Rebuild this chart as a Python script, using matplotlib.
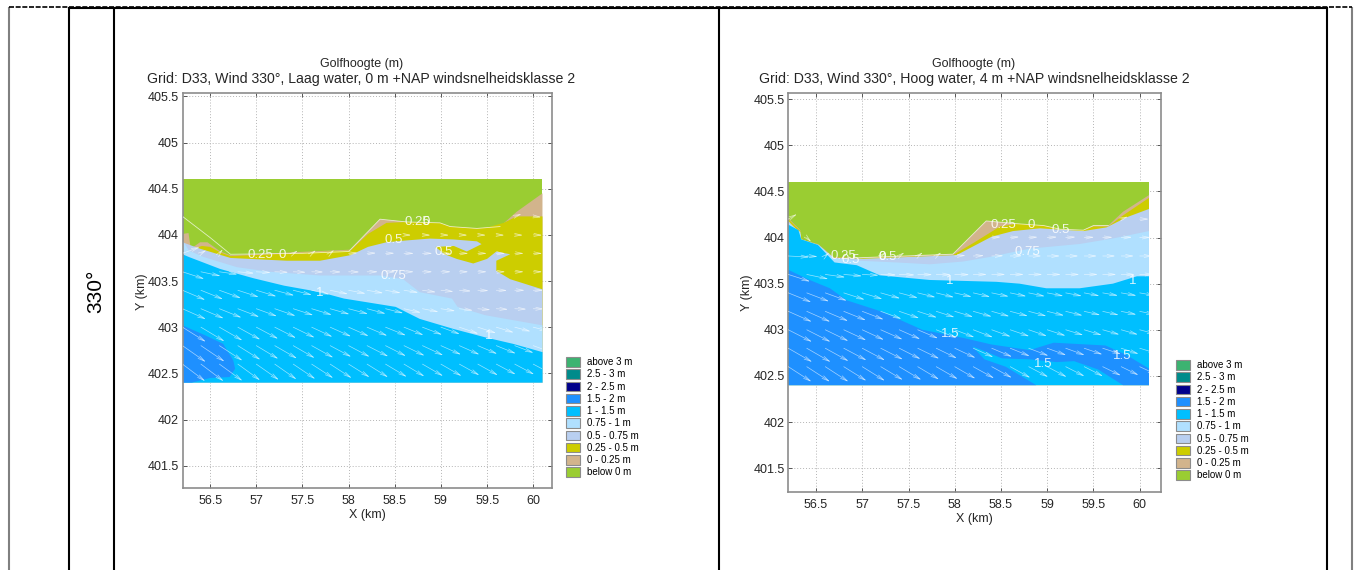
import numpy as np
import matplotlib
matplotlib.use('Agg')
import matplotlib.pyplot as plt
from matplotlib.lines import Line2D
from matplotlib.patches import Patch, Rectangle

plt.rcParams['font.family'] = ['Liberation Sans', 'DejaVu Sans']

W, H = 1356, 570

# legend classes, top to bottom
classes = ['above 3 m', '2.5 - 3 m', '2 - 2.5 m', '1.5 - 2 m', '1 - 1.5 m',
           '0.75 - 1 m', '0.5 - 0.75 m', '0.25 - 0.5 m', '0 - 0.25 m', 'below 0 m']
class_colors = ['#3CB371', '#008B8B', '#00008B', '#1E90FF', '#00BFFF',
                '#B0E0FF', '#B9CFF0', '#CDCD00', '#D2B48C', '#9ACD32']

x_ticks = [56.5, 57, 57.5, 58, 58.5, 59, 59.5, 60]
x_tick_labels = ['56.5', '57', '57.5', '58', '58.5', '59', '59.5', '60']
y_ticks = [401.5, 402, 402.5, 403, 403.5, 404, 404.5, 405, 405.5]
y_tick_labels = ['401.5', '402', '402.5', '403', '403.5', '404', '404.5', '405', '405.5']

# model grid outline
dom_x = [56.2, 60.1]
dom_y = [402.4, 404.6]

# upper boundaries of the classes, left panel (laag water)
l_tan = [(56.2,404.01),(56.265,404.02),(56.29,403.85),(56.39,403.92),(56.47,403.92),(56.61,403.82),
         (56.72,403.78),(58.02,403.84),(58.34,404.17),(58.63,404.14),(58.99,404.13),(59.10,404.09),
         (59.39,404.07),(59.64,404.09),(59.82,404.25),(60.1,404.45)]
l_yellow = [(56.2,403.90),(56.29,403.84),(56.41,403.88),(56.5,403.87),(56.61,403.81),(56.72,403.77),
            (58.02,403.83),(58.21,404.01),(58.41,404.13),(58.63,404.14),(58.99,404.13),(59.10,404.09),
            (59.39,404.07),(59.5,404.08),(59.68,404.13),(59.82,404.2),(60.1,404.2)]
l_pale = [(56.2,403.92),(56.39,403.85),(56.72,403.75),(57.33,403.72),(57.69,403.72),(58.02,403.78),
          (58.21,403.87),(58.41,403.92),(58.63,403.94),(58.88,403.96),(59.14,403.95),(59.39,403.93),
          (59.44,403.90),(59.28,403.82),(59.14,403.88),(58.94,403.87),(59.04,403.79),(59.17,403.74),
          (59.35,403.69),(59.5,403.74),(59.6,403.82),(59.75,403.79),(59.6,403.72),(59.6,403.61),
          (59.75,403.52),(60.1,403.41)]
l_light = [(56.2,403.94),(56.27,403.83),(56.43,403.76),(56.79,403.65),(57.15,403.6),(57.69,403.56),
           (58.34,403.56),(58.59,403.52),(58.77,403.38),(59.12,403.31),(59.18,403.22),(59.48,403.13),
           (60.1,403.02)]
l_sky = [(56.2,403.79),(56.27,403.76),(56.61,403.63),(56.97,403.53),(57.3,403.45),(57.69,403.38),
         (57.95,403.31),(58.51,403.22),(58.77,403.09),(59.14,402.98),(59.48,402.89),(59.78,402.82),
         (60.1,402.73)]
l_blue = [(56.2,403.02),(56.45,402.91),(56.64,402.82),(56.75,402.64),(56.77,402.55),(56.71,402.46),
          (56.5,402.45),(56.3,402.4),(56.2,402.4)]
l_white = [(56.2,404.2),(56.5,403.97),(56.72,403.79),(57.5,403.8),(58.0,403.82),(58.34,404.17),
           (58.63,404.14),(58.99,404.13),(59.10,404.09),(59.39,404.07),(59.64,404.09)]

# same for right panel (hoog water)
r_tan = [(56.2,404.21),(56.33,404.08),(56.34,403.98),(56.52,403.93),(56.69,403.79),(56.94,403.78),
         (57.98,403.82),(58.34,404.18),(58.67,404.15),(58.96,404.13),(59.14,404.09),(59.39,404.08),
         (59.5,404.13),(59.66,404.13),(59.82,404.28),(60.1,404.46)]
r_yellow = [(56.2,404.2),(56.33,404.07),(56.35,403.98),(56.52,403.925),(56.69,403.785),(56.94,403.775),
            (57.98,403.81),(58.2,403.94),(58.49,404.12),(58.67,404.15),(58.96,404.13),(59.14,404.09),
            (59.39,404.08),(59.5,404.12),(59.66,404.12),(59.82,404.24),(60.1,404.43)]
r_pale = [(56.2,404.18),(56.33,404.04),(56.34,403.98),(56.52,403.92),(56.69,403.78),(57.01,403.77),
          (58.02,403.81),(58.4,404.01),(58.63,404.07),(58.92,404.1),(59.39,404.07),(59.64,404.11),
          (59.86,404.22),(60.1,404.31)]
r_light = [(56.2,404.16),(56.33,404.06),(56.34,403.98),(56.53,403.92),(56.7,403.77),(56.94,403.75),
           (57.37,403.73),(57.73,403.71),(58.09,403.74),(58.38,403.79),(58.81,403.88),(59.35,403.93),
           (59.71,403.99),(60.1,404.07)]
r_sky = [(56.2,404.14),(56.31,404.08),(56.34,403.98),(56.52,403.92),(56.7,403.73),(56.94,403.7),
         (57.19,403.59),(57.73,403.54),(58.45,403.52),(58.7,403.5),(58.99,403.45),(59.35,403.45),
         (59.71,403.5),(59.97,403.58),(60.1,403.58)]
r_blue = [(56.2,403.65),(56.43,403.54),(56.65,403.45),(56.83,403.32),(57.2,403.2),(57.65,403.0),
          (58.1,402.91),(58.4,402.84),(58.81,402.78),(59.07,402.86),(59.63,402.83),(59.85,402.73),
          (60.1,402.58),(60.1,402.4),(59.82,402.4),(59.55,402.57),(59.29,402.66),(59.1,402.65),
          (58.81,402.68),(58.51,402.69),(58.32,402.77),(58.19,402.82),(58.32,402.68),(58.55,402.6),
          (58.88,402.4),(56.2,402.4)]
r_white = [(56.94,403.78),(57.98,403.82),(58.34,404.18),(58.67,404.15),(58.96,404.13),(59.14,404.09),
           (59.39,404.08),(59.5,404.13),(59.66,404.13)]

# arrow grid, 0 = no arrow. length in 0.01 km, direction in degrees
arrow_x = [56.2,56.4,56.6,56.8,57.0,57.2,57.4,57.6,57.8,58.0,58.2,58.4,58.6,58.8,59.0,59.2,59.4,59.6,59.8,60.0]
arrow_y = [404.2,404.0,403.8,403.6,403.4,403.2,403.0,402.8,402.6]

l_len = [[0,0,0,0,0,0,0,0,0,0,0,0,0,0,0,0,0,0,8,9],
         [0,0,0,0,0,0,0,0,0,0,0,0,8,9,9,9,9,9,9,10],
         [20,7,6,0,0,0,6,6,6,10,10,10,11,11,11,10,10,10,10,10],
         [25,22,20,18,16,15,14,13,12,12,12,11,11,11,11,10,10,10,10,10],
         [27,26,25,24,23,22,21,20,20,19,18,17,16,15,14,13,12,12,11,11],
         [28,27,26,25,24,24,23,23,22,22,21,20,19,18,16,15,14,13,13,12],
         [30,30,29,28,27,26,26,25,25,24,24,24,23,23,22,22,21,20,18,17],
         [31,31,30,29,28,28,27,27,26,26,26,25,25,25,24,24,23,23,22,21],
         [31,31,31,30,30,29,29,28,28,27,27,27,26,26,26,25,25,24,24,23]]
l_ang = [[0,0,0,0,0,0,0,0,0,0,0,0,0,0,0,0,0,0,20,-5],
         [0,0,0,0,0,0,0,0,0,0,0,0,-2,-2,-2,-2,-2,-2,-2,-2],
         [20,30,50,0,0,0,30,35,40,3,2,1,0,0,0,0,0,0,0,0],
         [-18,-12,-8,-5,-3,-2,-2,-1,-1,-1,0,0,0,0,0,0,0,0,0,0],
         [-23,-22,-20,-18,-17,-15,-14,-13,-12,-11,-10,-10,-9,-8,-6,-4,-2,-1,0,0],
         [-24,-23,-22,-21,-20,-19,-18,-17,-16,-15,-15,-14,-13,-11,-9,-7,-5,-3,-2,-1],
         [-32,-31,-30,-29,-28,-27,-26,-25,-24,-24,-23,-22,-22,-21,-20,-19,-18,-17,-15,-14],
         [-35,-34,-33,-32,-31,-30,-30,-29,-28,-28,-27,-27,-26,-25,-24,-24,-23,-22,-21,-20],
         [-37,-37,-36,-36,-35,-35,-34,-33,-33,-32,-32,-31,-31,-30,-30,-29,-29,-28,-28,-28]]

r_len = [[11,0,0,0,0,0,0,0,0,0,0,0,0,0,0,0,0,0,8,10],
         [0,7,0,0,0,0,0,0,0,0,0,10,10,10,11,11,11,11,12,12],
         [23,12,6,0,0,7,7,7,7,12,12,13,13,14,14,14,14,14,14,14],
         [25,24,22,20,18,17,17,16,16,16,15,15,15,15,15,15,15,15,15,15],
         [27,26,25,24,23,22,21,20,20,19,19,19,18,18,18,18,17,17,17,17],
         [28,28,27,26,25,24,23,22,21,21,21,20,20,20,19,19,18,18,17,17],
         [29,29,28,27,26,26,25,24,24,23,23,22,22,21,21,20,20,19,19,18],
         [30,30,29,28,28,27,26,26,25,25,24,24,23,23,22,22,21,21,20,20],
         [30,30,30,29,29,28,28,27,27,26,26,25,25,24,24,23,23,22,21,20]]
r_ang = [[30,0,0,0,0,0,0,0,0,0,0,0,0,0,0,0,0,0,20,0],
         [0,-45,0,0,0,0,0,0,0,0,0,4,4,3,3,3,2,2,2,1],
         [-3,-3,40,0,0,35,35,35,35,3,2,1,1,0,0,0,0,0,0,0],
         [-18,-12,-8,-5,-3,-2,-2,-1,-1,-1,0,0,0,0,0,0,0,0,0,0],
         [-22,-21,-20,-18,-17,-16,-15,-14,-14,-13,-13,-12,-12,-12,-11,-11,-11,-10,-10,-10],
         [-24,-24,-23,-22,-21,-20,-19,-18,-18,-17,-16,-16,-15,-15,-14,-14,-13,-13,-12,-12],
         [-27,-27,-26,-25,-25,-24,-24,-23,-22,-21,-21,-20,-19,-19,-18,-17,-17,-16,-16,-15],
         [-30,-30,-29,-28,-28,-27,-27,-26,-26,-25,-24,-23,-22,-21,-20,-20,-19,-18,-18,-17],
         [-33,-33,-33,-32,-32,-31,-31,-31,-30,-30,-29,-29,-29,-28,-28,-27,-27,-26,-26,-25]]

# contour labels
l_labels = [('0.25',58.75,404.14),('0',58.84,404.14),('0.5',58.49,403.94),('0.5',59.03,403.81),
            ('0.25',57.04,403.78),('0',57.28,403.78),('0.75',58.48,403.55),('1',57.69,403.37),('1',59.52,402.9)]
r_labels = [('0.25',58.53,404.14),('0',58.83,404.14),('0.5',59.14,404.08),('0.75',58.79,403.84),
            ('0.5',57.27,403.79),('0',57.22,403.79),('0.25',56.8,403.8),('0.5',56.87,403.76),
            ('1',57.95,403.53),('1',59.92,403.53),('1.5',57.95,402.95),('1.5',58.96,402.63),('1.5',59.81,402.72)]


def fill_below(ax, boundary, color):
    xs = [p[0] for p in boundary] + [dom_x[1], dom_x[0]]
    ys = [p[1] for p in boundary] + [dom_y[0], dom_y[0]]
    ax.fill(xs, ys, color=color, lw=0, zorder=2)


def draw_arrows(ax, lens, angs):
    clip = Rectangle((dom_x[0], dom_y[0]), dom_x[1] - dom_x[0], dom_y[1] - dom_y[0], transform=ax.transData)
    for i, y in enumerate(arrow_y):
        for j, x in enumerate(arrow_x):
            if lens[i][j] == 0:
                continue
            a = np.radians(angs[i][j])
            l = lens[i][j] / 100
            ann = ax.annotate('', xy=(x + l * np.cos(a), y + l * np.sin(a)), xytext=(x, y), zorder=4,
                              annotation_clip=False,
                              arrowprops=dict(arrowstyle='->,head_length=0.5,head_width=0.11', color='white',
                                              alpha=0.6, lw=0.5, shrinkA=0, shrinkB=0))
            ann.arrow_patch.set_clip_path(clip)


def panel(rect, title2, title_cx, layers, blue, white, lens, angs, labels, xright, ylim, leg_xy):
    x0, y0, w, h = rect
    ax = fig.add_axes([x0 / W, 1 - (y0 + h) / H, w / W, h / H])
    ax.set_xlim(56.2, xright)
    ax.set_ylim(*ylim)
    ax.set_xticks(x_ticks)
    ax.set_xticklabels(x_tick_labels)
    ax.set_yticks(y_ticks)
    ax.set_yticklabels(y_tick_labels)
    ax.tick_params(direction='in', length=3, width=0.7, color='#555555', labelsize=9,
                   labelcolor='#262626', top=True, right=True, pad=2.5)
    ax.tick_params(axis='x', pad=5)
    ax.grid(True, ls=(0, (1, 2)), color='#b4b4b4', lw=0.7, zorder=1)
    ax.set_axisbelow(True)
    for s in ax.spines.values():
        s.set_color('#8c8c8c')
        s.set_linewidth(1.2)

    # domain, green on top of grid
    ax.fill([dom_x[0], dom_x[1], dom_x[1], dom_x[0]], [dom_y[0], dom_y[0], dom_y[1], dom_y[1]],
            color=class_colors[9], lw=0, zorder=2)
    for bnd, col in layers:
        fill_below(ax, bnd, col)
    ax.fill([p[0] for p in blue], [p[1] for p in blue], color=class_colors[3], lw=0, zorder=2)

    ax.plot([p[0] for p in white], [p[1] for p in white], color='white', lw=0.6, alpha=0.7, zorder=3)
    draw_arrows(ax, lens, angs)

    for t, lx, ly in labels:
        ax.text(lx, ly, t, color='white', fontsize=9.5, ha='center', va='center', alpha=0.85, zorder=5)

    # title and labels, placed in pixels of the page
    cx = x0 + w / 2
    fig.text(title_cx / W, 1 - 63.5 / H, 'Golfhoogte (m)', fontsize=9,
             ha='center', va='center', color='#262626')
    fig.text(title_cx / W, 1 - 79 / H, title2, fontsize=10.2, ha='center', va='center', color='#262626')
    fig.text(cx / W, 1 - (y0 + h + 27) / H, 'X (km)', fontsize=9, ha='center', va='center', color='#262626')
    fig.text((x0 - 41) / W, 1 - (y0 + h / 2 + 1) / H, 'Y (km)', fontsize=9, rotation=90,
             ha='center', va='center', color='#262626')

    handles = [Patch(facecolor=c, edgecolor='#8c8c8c', lw=0.8) for c in class_colors]
    fig.legend(handles=handles, labels=classes, loc='upper left',
               bbox_to_anchor=(leg_xy[0] / W, 1 - leg_xy[1] / H), frameon=False, fontsize=7,
               handlelength=1.5, handleheight=1.15, labelspacing=0.22, handletextpad=0.75,
               borderpad=0, borderaxespad=0)
    return ax


fig = plt.figure(figsize=(W / 100, H / 100), dpi=100, facecolor='white')

left_layers = [(l_tan, class_colors[8]), (l_yellow, class_colors[7]), (l_pale, class_colors[6]),
               (l_light, class_colors[5]), (l_sky, class_colors[4])]
right_layers = [(r_tan, class_colors[8]), (r_yellow, class_colors[7]), (r_pale, class_colors[6]),
                (r_light, class_colors[5]), (r_sky, class_colors[4])]

ax1 = panel((182.5, 92.7, 369.2, 395.6), 'Grid: D33, Wind 330°, Laag water, 0 m +NAP windsnelheidsklasse 2', 361.5,
            left_layers, l_blue, l_white, l_len, l_ang, l_labels, 60.2, (401.255, 405.54), (565.5, 357))
ax2 = panel((788.3, 92.7, 372.7, 399), 'Grid: D33, Wind 330°, Hoog water, 4 m +NAP windsnelheidsklasse 2', 974,
            right_layers, r_blue, r_white, r_len, r_ang, r_labels, 60.23, (401.245, 405.57), (1175.5, 360))

# table frame around the two plots
for xp, col, lw in [(9, '#808080', 1.5), (69, 'black', 1.5), (114, 'black', 1.5), (719, 'black', 1.5),
                    (1327, 'black', 1.5), (1352, '#808080', 1.5)]:
    fig.add_artist(Line2D([xp / W, xp / W], [0, 1 - 8 / H], color=col, lw=lw))
fig.add_artist(Line2D([69 / W, 1327 / W], [1 - 8 / H, 1 - 8 / H], color='black', lw=1.5))
fig.add_artist(Line2D([9 / W, 1352 / W], [1 - 6.5 / H, 1 - 6.5 / H], color='black', lw=1.2, ls=(0, (3, 1))))

fig.text(96 / W, 1 - 291 / H, '330°', fontsize=15, rotation=90, ha='center', va='center', color='black')

fig.savefig('out.png', dpi=100)
